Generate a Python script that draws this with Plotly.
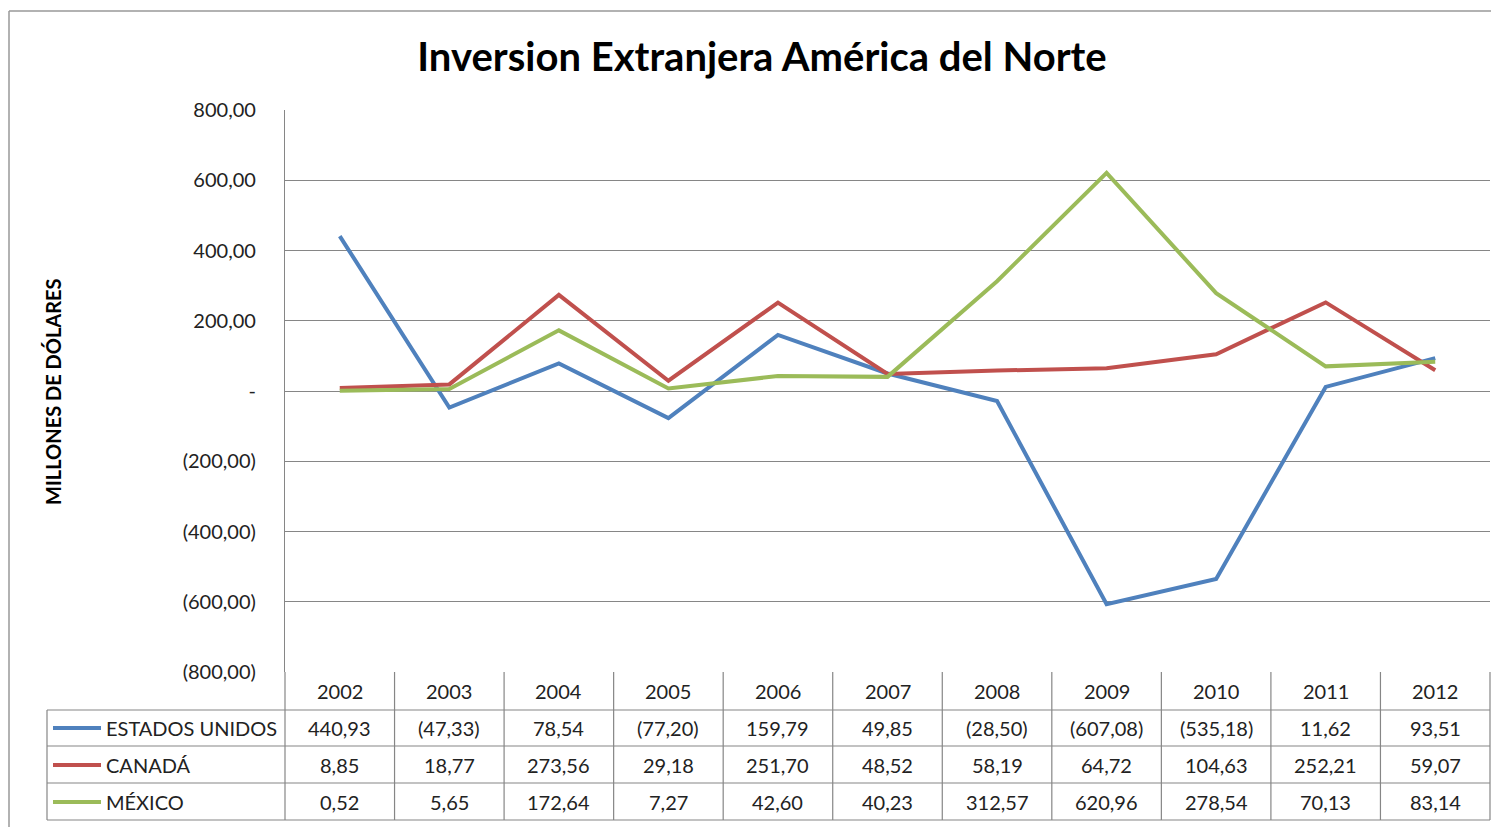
import plotly.graph_objects as go

years = ["2002", "2003", "2004", "2005", "2006", "2007", "2008", "2009", "2010", "2011", "2012"]
series_names = ["ESTADOS UNIDOS", "CANADÁ", "MÉXICO"]
estados_unidos = [440.93, -47.33, 78.54, -77.20, 159.79, 49.85, -28.50, -607.08, -535.18, 11.62, 93.51]
canada = [8.85, 18.77, 273.56, 29.18, 251.70, 48.52, 58.19, 64.72, 104.63, 252.21, 59.07]
mexico = [0.52, 5.65, 172.64, 7.27, 42.60, 40.23, 312.57, 620.96, 278.54, 70.13, 83.14]
colors = ["#4F81BD", "#C0504D", "#9BBB59"]
y_ticks = [800, 600, 400, 200, 0, -200, -400, -600, -800]

all_series = [estados_unidos, canada, mexico]
FONT = "Lato"
W, H = 1499, 827
OFF = 8  # page body margin offset
L, R, T, B = 285 - OFF, 1490 - OFF, 110 - OFF, 672 - OFF


def fmt(v):
    if v == 0:
        return "-"
    s = f"{abs(v):,.2f}".replace(",", "X").replace(".", ",").replace("X", ".")
    return f"({s})" if v < 0 else s


def px(x):
    return (x - OFF - L) / (R - L)


def py(y):
    return (B - (y - OFF)) / (B - T)


fig = go.Figure()
xs = list(range(len(years)))
for name, vals, c in zip(series_names, all_series, colors):
    fig.add_trace(go.Scatter(x=xs, y=vals, mode="lines", name=name,
                             line=dict(color=c, width=4), showlegend=False))

grid = "#868686"
shapes = []
row_y = [710, 746, 783, 820]
n = len(years)
for yy in row_y:
    shapes.append(dict(type="line", xref="paper", yref="paper", x0=px(47), x1=1,
                       y0=py(yy), y1=py(yy), line=dict(color=grid, width=1.2)))
for k in range(n + 1):
    xp = k / n
    shapes.append(dict(type="line", xref="paper", yref="paper", x0=xp, x1=xp,
                       y0=0, y1=py(820), line=dict(color=grid, width=1.2)))
shapes.append(dict(type="line", xref="paper", yref="paper", x0=px(47), x1=px(47),
                   y0=py(710), y1=py(820), line=dict(color=grid, width=1.2)))
# outer chart border
shapes.append(dict(type="line", xref="paper", yref="paper", x0=px(9), x1=px(9),
                   y0=py(11), y1=py(845), line=dict(color="#999999", width=1.5)))
shapes.append(dict(type="line", xref="paper", yref="paper", x0=px(9), x1=px(1520),
                   y0=py(11), y1=py(11), line=dict(color="#999999", width=1.5)))

TXT = "#222222"
annotations = []
for i, yr in enumerate(years):
    annotations.append(dict(x=i, xref="x", y=py(691), yref="paper", text=yr,
                            showarrow=False, font=dict(family=FONT, size=20, color=TXT),
                            xanchor="center", yanchor="middle"))
row_centers = [728, 765, 802]
for r, (name, vals, c) in enumerate(zip(series_names, all_series, colors)):
    yc = row_centers[r]
    shapes.append(dict(type="line", xref="paper", yref="paper", x0=px(53), x1=px(101),
                       y0=py(yc), y1=py(yc), line=dict(color=c, width=4)))
    annotations.append(dict(x=px(104), xref="paper", y=py(yc), yref="paper", text=name,
                            showarrow=False, font=dict(family=FONT, size=20, color=TXT),
                            xanchor="left", yanchor="middle"))
    for i, v in enumerate(vals):
        annotations.append(dict(x=i, xref="x", y=py(yc), yref="paper", text=fmt(v),
                                showarrow=False, font=dict(family=FONT, size=20, color=TXT),
                                xanchor="center", yanchor="middle"))

annotations.append(dict(x=px(53), xref="paper", y=py(392), yref="paper",
                        text="<b>MILLONES DE DÓLARES</b>", textangle=-90, showarrow=False,
                        font=dict(family=FONT, size=20, color="#000000"),
                        xanchor="center", yanchor="middle"))

fig.update_layout(
    width=W, height=H,
    margin=dict(l=L, r=W - R, t=T, b=H - B),
    paper_bgcolor="white", plot_bgcolor="white",
    title=dict(text="<b>Inversion Extranjera América del Norte</b>", x=(762 - OFF) / W,
               xanchor="center", y=1 - (57 - OFF) / H, yanchor="middle",
               font=dict(family=FONT, size=40, color="#000000")),
    xaxis=dict(range=[-0.5, n - 0.5], showgrid=False, zeroline=False, showticklabels=False,
               showline=False, fixedrange=True),
    yaxis=dict(range=[-800, 800], tickvals=y_ticks, ticktext=[fmt(v) for v in y_ticks],
               showgrid=True, gridcolor=grid, gridwidth=1.2, zeroline=False,
               showline=True, linecolor=grid, linewidth=1.2,
               tickfont=dict(family=FONT, size=20, color=TXT), ticklabelstandoff=24,
               fixedrange=True),
    shapes=shapes,
    annotations=annotations,
)

fig.write_html("out.html")
